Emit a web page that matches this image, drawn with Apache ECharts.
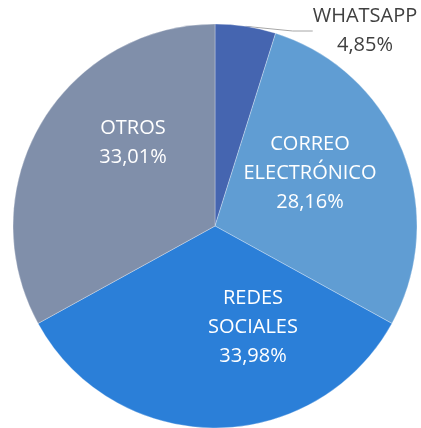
<!DOCTYPE html>
<html>
<head>
<meta charset="utf-8">
<script src="https://cdn.jsdelivr.net/npm/echarts@6/dist/echarts.min.js"></script>
<style>
  html, body { margin: 0; padding: 0; background: #fff; }
  #chart { width: 421px; height: 428px; }
</style>
</head>
<body>
<div id="chart"></div>
<script>
// datos del gráfico
var categorias = ['WHATSAPP', 'CORREO\nELECTRÓNICO', 'REDES\nSOCIALES', 'OTROS'];
var porcentajes = [4.85, 28.16, 33.98, 33.01];
var colores = ['#4565b0', '#609dd3', '#2b7fd8', '#808faa'];

// donde van las etiquetas (centro del texto)
var posEtiquetas = [[365, 31], [310, 173], [253, 327], [133, 143]];

var myChart = echarts.init(document.getElementById('chart'));

var seriesData = categorias.map(function (nombre, i) {
    var fuera = i === 0;
    return {
        name: nombre,
        value: porcentajes[i],
        itemStyle: { color: colores[i] },
        label: {
            position: fuera ? 'outside' : 'inside',
            color: fuera ? '#404040' : '#ffffff'
        },
        labelLine: { show: fuera }
    };
});

var option = {
    animation: false,
    series: [{
        type: 'pie',
        center: [215, 226],
        radius: 202,
        startAngle: 90,
        clockwise: true,
        data: seriesData,
        itemStyle: { borderColor: '#ffffff', borderWidth: 0.3 },
        label: {
            fontFamily: 'Open Sans',
            fontSize: 20,
            lineHeight: 29,
            align: 'center',
            formatter: function (p) {
                return p.name + '\n' + p.value.toFixed(2).replace('.', ',') + '%';
            }
        },
        labelLine: {
            length: 10,
            length2: 20,
            lineStyle: { color: '#a6a6a6', width: 1 }
        },
        labelLayout: function (params) {
            var pos = posEtiquetas[params.dataIndex];
            return {
                x: pos[0],
                y: pos[1],
                align: 'center',
                verticalAlign: 'middle'
            };
        }
    }]
};

myChart.setOption(option);
</script>
</body>
</html>
